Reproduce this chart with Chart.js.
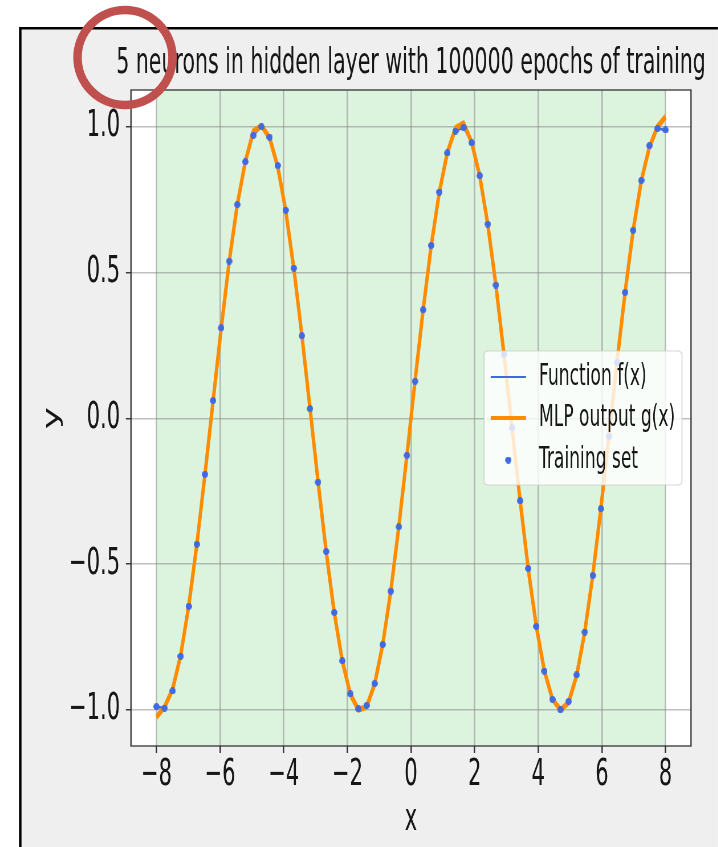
<!DOCTYPE html>
<html>
<head>
<meta charset="utf-8">
<script src="https://cdn.jsdelivr.net/npm/chart.js@4.4.1/dist/chart.umd.min.js"></script>
<style>
  html, body { margin: 0; padding: 0; background: #fff; overflow: hidden; width: 718px; height: 847px; }
  #plot { position: absolute; left: 0; top: 0; transform: scaleX(0.57); transform-origin: 0 0; }
</style>
</head>
<body>
<canvas id="plot" width="1260" height="847"></canvas>
<script>
// The canvas is drawn wide and squeezed horizontally by CSS (narrow, tall figure look).
const S = 0.57;

// Sample positions shared by the three series
const xGrid = [
  -8.000, -7.746, -7.492, -7.238, -6.984, -6.730, -6.476, -6.222,
  -5.968, -5.714, -5.460, -5.206, -4.952, -4.698, -4.444, -4.190,
  -3.937, -3.683, -3.429, -3.175, -2.921, -2.667, -2.413, -2.159,
  -1.905, -1.651, -1.397, -1.143, -0.889, -0.635, -0.381, -0.127,
   0.127,  0.381,  0.635,  0.889,  1.143,  1.397,  1.651,  1.905,
   2.159,  2.413,  2.667,  2.921,  3.175,  3.429,  3.683,  3.937,
   4.190,  4.444,  4.698,  4.952,  5.206,  5.460,  5.714,  5.968,
   6.222,  6.476,  6.730,  6.984,  7.238,  7.492,  7.746,  8.000
];

// Training targets f(x)
const trainY = [
  -0.989, -0.994, -0.935, -0.816, -0.645, -0.432, -0.192,  0.061,
   0.310,  0.539,  0.733,  0.880,  0.971,  1.000,  0.964,  0.867,
   0.714,  0.515,  0.283,  0.033, -0.219, -0.457, -0.666, -0.832,
  -0.945, -0.997, -0.985, -0.910, -0.776, -0.593, -0.372, -0.127,
   0.127,  0.372,  0.593,  0.776,  0.910,  0.985,  0.997,  0.945,
   0.832,  0.666,  0.457,  0.219, -0.033, -0.283, -0.515, -0.714,
  -0.867, -0.964, -1.000, -0.971, -0.880, -0.733, -0.539, -0.310,
  -0.061,  0.192,  0.432,  0.645,  0.816,  0.935,  0.994,  0.989
];

// Network output g(x)
const mlpY = [
  -1.025, -0.990, -0.930, -0.812, -0.643, -0.432, -0.193,  0.058,
   0.306,  0.537,  0.733,  0.881,  0.985,  1.003,  0.962,  0.864,
   0.712,  0.514,  0.284,  0.035, -0.217, -0.456, -0.666, -0.833,
  -0.947, -1.000, -0.990, -0.912, -0.776, -0.592, -0.370, -0.125,
   0.128,  0.372,  0.592,  0.775,  0.912,  0.995,  1.012,  0.947,
   0.832,  0.665,  0.457,  0.220, -0.032, -0.283, -0.515, -0.713,
  -0.866, -0.963, -1.000, -0.975, -0.882, -0.733, -0.538, -0.308,
  -0.058,  0.195,  0.434,  0.646,  0.815,  0.930,  1.000,  1.034
];

const xTicks = [-8, -6, -4, -2, 0, 2, 4, 6, 8];
const xTickLabels = ['\u22128', '\u22126', '\u22124', '\u22122', '0', '2', '4', '6', '8'];
const yTicks = [-1, -0.5, 0, 0.5, 1];
const yTickLabels = ['\u22121.0', '\u22120.5', '0.0', '0.5', '1.0'];
const spanRange = [-8, 8];
const seriesLabels = ['Function f(x)', 'MLP output g(x)', 'Training set'];
const titleText = '5 neurons in hidden layer with 100000 epochs of training';

const FONT = '"DejaVu Sans", "Liberation Sans", sans-serif';
const TEXT = '#161616';
const BLUE = '#4169e1';
const ORANGE = '#ff8c00';

// Small elliptical marker (becomes round-ish after the squeeze)
const dotImg = document.createElement('canvas');
dotImg.width = 11; dotImg.height = 7;
(() => {
  const c = dotImg.getContext('2d');
  c.fillStyle = BLUE;
  c.beginPath();
  c.ellipse(5.5, 3.5, 5.5, 3.5, 0, 0, Math.PI * 2);
  c.fill();
})();

const figurePlugin = {
  id: 'figure',
  beforeDraw(chart) {
    const { ctx, chartArea: a, scales: { x } } = chart;
    ctx.save();
    ctx.fillStyle = '#fff';
    ctx.fillRect(0, 0, chart.width, chart.height);
    ctx.scale(1 / S, 1);               // screen units from here
    ctx.fillStyle = '#efefef';
    ctx.fillRect(19, 27, 718 - 19, 847 - 27);
    ctx.strokeStyle = '#000';
    ctx.lineWidth = 2.5;
    ctx.beginPath();
    ctx.moveTo(20.25, 847);
    ctx.lineTo(20.25, 28.25);
    ctx.lineTo(718, 28.25);
    ctx.stroke();
    ctx.restore();

    ctx.save();
    ctx.fillStyle = '#fff';
    ctx.fillRect(a.left, a.top, a.width, a.height);
    const x0 = x.getPixelForValue(spanRange[0]);
    const x1 = x.getPixelForValue(spanRange[1]);
    ctx.fillStyle = 'rgb(220,244,222)';
    ctx.fillRect(x0, a.top, x1 - x0, a.height);
    ctx.restore();
  },
  afterDraw(chart) {
    const { ctx, chartArea: a } = chart;

    // axes frame
    ctx.save();
    ctx.scale(1 / S, 1);
    ctx.strokeStyle = '#333';
    ctx.lineWidth = 1.3;
    ctx.strokeRect(a.left * S, a.top, a.width * S, a.height);
    ctx.restore();

    // title
    ctx.save();
    ctx.font = '36px ' + FONT;
    ctx.fillStyle = TEXT;
    ctx.textAlign = 'center';
    ctx.textBaseline = 'middle';
    ctx.fillText(titleText, (a.left + a.right) / 2, a.top - 26);
    ctx.restore();

    // legend, centred on the right edge of the axes
    const w = 347.4, h = 134;
    const right = a.right - 15.8;
    const left = right - w;
    const top = (a.top + a.bottom) / 2 - h / 2;
    ctx.save();
    ctx.scale(1 / S, 1);
    ctx.beginPath();
    ctx.roundRect(left * S, top, w * S, h, 4);
    ctx.fillStyle = 'rgba(255,255,255,0.8)';
    ctx.fill();
    ctx.strokeStyle = 'rgba(204,204,204,0.8)';
    ctx.lineWidth = 1;
    ctx.stroke();
    ctx.restore();

    const hx0 = left + 6.7 / S, hx1 = left + 42 / S;
    const rows = [top + 26, top + 67, top + 109];
    ctx.save();
    ctx.lineCap = 'butt';
    ctx.strokeStyle = BLUE; ctx.lineWidth = 2;
    ctx.beginPath(); ctx.moveTo(hx0, rows[0]); ctx.lineTo(hx1, rows[0]); ctx.stroke();
    ctx.strokeStyle = ORANGE; ctx.lineWidth = 4;
    ctx.beginPath(); ctx.moveTo(hx0, rows[1]); ctx.lineTo(hx1, rows[1]); ctx.stroke();
    ctx.drawImage(dotImg, (hx0 + hx1) / 2 - dotImg.width / 2, rows[2] - dotImg.height / 2);
    ctx.font = '30px ' + FONT;
    ctx.fillStyle = TEXT;
    ctx.textAlign = 'left';
    ctx.textBaseline = 'middle';
    seriesLabels.forEach((t, i) => ctx.fillText(t, left + 96.5, rows[i]));
    ctx.restore();

    // red ring highlight
    ctx.save();
    ctx.scale(1 / S, 1);
    ctx.strokeStyle = 'rgb(192,80,77)';
    ctx.lineWidth = 8.5;
    ctx.beginPath();
    ctx.arc(125, 57.5, 47.5, 0, Math.PI * 2);
    ctx.stroke();
    ctx.restore();
  }
};

function draw() {
  Chart.defaults.font.family = FONT;
  new Chart(document.getElementById('plot'), {
    type: 'scatter',
    data: {
      datasets: [
        {
          label: seriesLabels[2],
          data: xGrid.map((x, i) => ({ x, y: trainY[i] })),
          pointStyle: dotImg,
          pointRadius: 3,
          showLine: false,
          order: 0
        },
        {
          label: seriesLabels[1],
          data: xGrid.map((x, i) => ({ x, y: mlpY[i] })),
          showLine: true,
          borderColor: ORANGE,
          borderWidth: 6,
          borderJoinStyle: 'round',
          pointRadius: 0,
          order: 1
        },
        {
          label: seriesLabels[0],
          data: xGrid.map((x, i) => ({ x, y: trainY[i] })),
          showLine: true,
          borderColor: BLUE,
          borderWidth: 2.5,
          pointRadius: 0,
          order: 2
        }
      ]
    },
    options: {
      responsive: false,
      animation: false,
      devicePixelRatio: 1,
      events: [],
      layout: { padding: { top: 90, right: 47.7, bottom: 0, left: 0 } },
      plugins: { legend: { display: false }, title: { display: false }, tooltip: { enabled: false } },
      scales: {
        x: {
          type: 'linear',
          min: -8.8, max: 8.8,
          afterBuildTicks: s => { s.ticks = xTicks.map(v => ({ value: v })); },
          afterFit: s => { s.height = 101; },
          ticks: {
            callback: (v, i) => xTickLabels[i],
            font: { size: 37 }, color: TEXT, padding: 0,
            autoSkip: false, maxRotation: 0
          },
          grid: {
            color: 'rgba(128,128,128,0.5)', lineWidth: 1.5 / S,
            tickColor: '#333', tickLength: 7, tickWidth: 1.4 / S
          },
          border: { display: false },
          title: { display: true, text: 'x', font: { size: 37 }, color: TEXT, padding: { top: 0, bottom: 4 } }
        },
        y: {
          type: 'linear',
          min: -1.124, max: 1.126,
          afterBuildTicks: s => { s.ticks = yTicks.map(v => ({ value: v })); },
          afterFit: s => { s.width = 229.8; },
          ticks: {
            callback: (v, i) => yTickLabels[i],
            font: { size: 37 }, color: TEXT, padding: 10
          },
          grid: {
            color: 'rgba(128,128,128,0.5)', lineWidth: 1.5,
            tickColor: '#333', tickLength: 9, tickWidth: 1.4
          },
          border: { display: false },
          title: { display: true, text: 'y', font: { size: 37 }, color: TEXT, padding: { top: 70, bottom: 0 } }
        }
      }
    },
    plugins: [figurePlugin]
  });
}

if (document.fonts && document.fonts.load) {
  document.fonts.load('36px "DejaVu Sans"').then(draw, draw);
} else {
  draw();
}
</script>
</body>
</html>
